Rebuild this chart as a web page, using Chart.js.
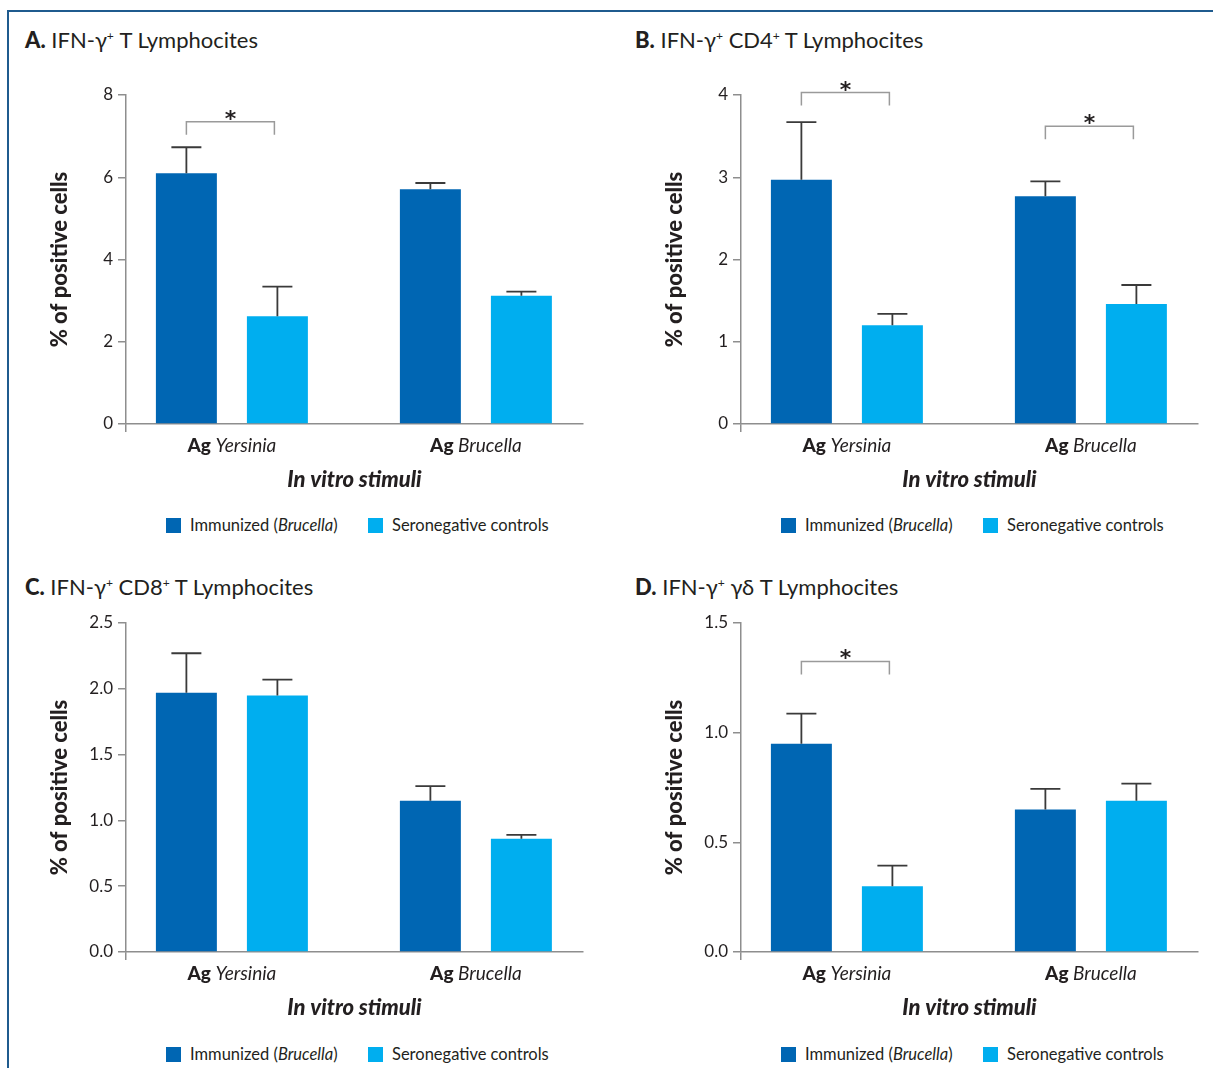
<!DOCTYPE html>
<html>
<head>
<meta charset="utf-8">
<script src="https://cdn.jsdelivr.net/npm/chart.js@4.4.0/dist/chart.umd.min.js"></script>
<style>
  body { margin: 0; background: #fff; font-family: Lato, 'Open Sans', sans-serif; color: #231f20; }
  #page { position: relative; width: 1213px; height: 1068px; overflow: hidden; }
  #frame { position: absolute; left: 7px; top: 10px; right: -5px; bottom: -5px;
           border-top: 2.5px solid #1f5b8e; border-left: 2.5px solid #1f5b8e; }
  .title { position: absolute; font-size: 22px; line-height: 24px; white-space: nowrap; }
  .title b { font-weight: 900; }
  .title sup { font-size: 55%; line-height: 0; vertical-align: super; }
  .panel { position: absolute; }
  .leg { position: absolute; font-size: 16.5px; line-height: 18px; white-space: nowrap; display: flex; align-items: center; }
  .sw { display: inline-block; width: 15px; height: 15px; margin-right: 9px; }
</style>
</head>
<body>
<div id="page">
  <div id="frame"></div>

  <div class="title" style="left:25px; top:28px"><b>A.</b> IFN-γ<sup>+</sup> T Lymphocites</div>
  <div class="title" style="left:635px; top:28px"><b>B.</b> IFN-γ<sup>+</sup> CD4<sup>+</sup> T Lymphocites</div>
  <div class="title" style="left:25px; top:575px"><b>C.</b> IFN-γ<sup>+</sup> CD8<sup>+</sup> T Lymphocites</div>
  <div class="title" style="left:635px; top:575px"><b>D.</b> IFN-γ<sup>+</sup> γδ T Lymphocites</div>

  <canvas id="chartA" class="panel" width="598" height="433" style="left:0; top:60px"></canvas>
  <canvas id="chartB" class="panel" width="598" height="433" style="left:615px; top:60px"></canvas>
  <canvas id="chartC" class="panel" width="598" height="433" style="left:0; top:588px"></canvas>
  <canvas id="chartD" class="panel" width="598" height="433" style="left:615px; top:588px"></canvas>

  <div class="leg" style="left:166px; top:516px"><span class="sw" style="background:#0066b3"></span>Immunized (<i>Brucella</i>)</div>
  <div class="leg" style="left:368px; top:516px"><span class="sw" style="background:#00aeef"></span>Seronegative controls</div>
  <div class="leg" style="left:781px; top:516px"><span class="sw" style="background:#0066b3"></span>Immunized (<i>Brucella</i>)</div>
  <div class="leg" style="left:983px; top:516px"><span class="sw" style="background:#00aeef"></span>Seronegative controls</div>
  <div class="leg" style="left:166px; top:1045px"><span class="sw" style="background:#0066b3"></span>Immunized (<i>Brucella</i>)</div>
  <div class="leg" style="left:368px; top:1045px"><span class="sw" style="background:#00aeef"></span>Seronegative controls</div>
  <div class="leg" style="left:781px; top:1045px"><span class="sw" style="background:#0066b3"></span>Immunized (<i>Brucella</i>)</div>
  <div class="leg" style="left:983px; top:1045px"><span class="sw" style="background:#00aeef"></span>Seronegative controls</div>
</div>

<script>
const categories   = ['Yersinia', 'Brucella'];
const seriesLabels = ['Immunized (Brucella)', 'Seronegative controls'];

// A. IFN-γ+ T
const aImmunized    = [6.10, 5.71];
const aImmunizedErr = [0.63, 0.15];
const aControls     = [2.62, 3.12];
const aControlsErr  = [0.72, 0.10];
const aTicks        = [0, 2, 4, 6, 8];
const aSigCats      = [0];
const aSigLevels    = [7.35];

// B. IFN-γ+ CD4+ T
const bImmunized    = [2.97, 2.77];
const bImmunizedErr = [0.70, 0.18];
const bControls     = [1.20, 1.46];
const bControlsErr  = [0.14, 0.23];
const bTicks        = [0, 1, 2, 3, 4];
const bSigCats      = [0, 1];
const bSigLevels    = [4.03, 3.62];

// C. IFN-γ+ CD8+ T
const cImmunized    = [1.97, 1.15];
const cImmunizedErr = [0.30, 0.11];
const cControls     = [1.95, 0.86];
const cControlsErr  = [0.12, 0.03];
const cTicks        = [0, 0.5, 1.0, 1.5, 2.0, 2.5];
const cSigCats      = [];
const cSigLevels    = [];

// D. IFN-γ+ γδ T
const dImmunized    = [0.95, 0.65];
const dImmunizedErr = [0.137, 0.094];
const dControls     = [0.30, 0.69];
const dControlsErr  = [0.094, 0.078];
const dTicks        = [0, 0.5, 1.0, 1.5];
const dSigCats      = [0];
const dSigLevels    = [1.325];

const FONT  = 'Lato, "Open Sans", sans-serif';
const TEXT  = '#231f20';
const AXIS  = '#8e8e8e';
const DARK  = '#0066b3';
const LIGHT = '#00aeef';

// error bars, significance brackets and mixed-font category labels
const extras = {
  id: 'extras',
  afterDatasetsDraw(chart, args, opts) {
    const { ctx, chartArea } = chart;
    const x = chart.scales.x, y = chart.scales.y;
    ctx.save();

    chart.data.datasets.forEach((ds, di) => {
      chart.getDatasetMeta(di).data.forEach((bar, i) => {
        const top = y.getPixelForValue(ds.data[i].y + ds.err[i]);
        ctx.strokeStyle = '#3a3a3a';
        ctx.lineWidth = 1.8;
        ctx.beginPath();
        ctx.moveTo(bar.x, bar.y);
        ctx.lineTo(bar.x, top);
        ctx.moveTo(bar.x - 15, top);
        ctx.lineTo(bar.x + 15, top);
        ctx.stroke();
      });
    });

    const m0 = chart.getDatasetMeta(0).data, m1 = chart.getDatasetMeta(1).data;
    opts.cats.forEach((c, k) => {
      const yy = y.getPixelForValue(opts.levels[k]);
      const x0 = m0[c].x, x1 = m1[c].x - 3;
      ctx.strokeStyle = '#9a9a9a';
      ctx.lineWidth = 1.5;
      ctx.beginPath();
      ctx.moveTo(x0, yy + 13);
      ctx.lineTo(x0, yy);
      ctx.lineTo(x1, yy);
      ctx.lineTo(x1, yy + 13);
      ctx.stroke();
      ctx.fillStyle = TEXT;
      ctx.font = 'bold 22px "DejaVu Sans", sans-serif';
      ctx.textAlign = 'center';
      ctx.textBaseline = 'alphabetic';
      ctx.fillText('*', (x0 + x1) / 2, yy + 4);
    });

    ctx.fillStyle = TEXT;
    ctx.textBaseline = 'middle';
    ctx.textAlign = 'left';
    categories.forEach((c, i) => {
      const cx = x.getPixelForValue(i);
      ctx.font = '900 19px ' + FONT;
      const w1 = ctx.measureText('Ag ').width;
      ctx.font = 'italic 19px ' + FONT;
      const w2 = ctx.measureText(c).width;
      const sx = cx - (w1 + w2) / 2;
      const ty = chartArea.bottom + 22;
      ctx.font = '900 19px ' + FONT;
      ctx.fillText('Ag ', sx, ty);
      ctx.font = 'italic 19px ' + FONT;
      ctx.fillText(c, sx + w1, ty);
    });
    ctx.restore();
  }
};

function makePanel(id, immunized, immunizedErr, controls, controlsErr, ticks, decimals, sigCats, sigLevels) {
  new Chart(document.getElementById(id), {
    type: 'bar',
    data: {
      datasets: [
        { label: seriesLabels[0], data: immunized.map((v, i) => ({ x: i, y: v })), err: immunizedErr, backgroundColor: DARK },
        { label: seriesLabels[1], data: controls.map((v, i) => ({ x: i, y: v })), err: controlsErr, backgroundColor: LIGHT }
      ]
    },
    options: {
      responsive: false,
      animation: false,
      categoryPercentage: 0.746,
      barPercentage: 0.67,
      layout: { padding: { left: 47, top: 35, right: 15, bottom: 0 } },
      plugins: {
        legend: { display: false },
        tooltip: { enabled: false },
        extras: { cats: sigCats, levels: sigLevels }
      },
      scales: {
        x: {
          type: 'linear', min: -0.434, max: 1.439, offset: false,
          afterBuildTicks: s => { s.ticks = [{ value: s.min }]; },
          afterFit: s => { s.height = 69; },
          ticks: { display: false },
          grid: { display: true, offset: false, drawOnChartArea: false, drawTicks: true, tickLength: 8, color: AXIS, lineWidth: 1.5 },
          border: { display: true, color: AXIS, width: 1.5 },
          title: { display: true, text: 'In vitro stimuli', color: TEXT, padding: 0,
                   font: { family: FONT, size: 22, weight: '900', style: 'italic' } }
        },
        y: {
          min: ticks[0], max: ticks[ticks.length - 1],
          afterBuildTicks: s => { s.ticks = ticks.map(v => ({ value: v })); },
          afterFit: s => { s.width = 79; },
          ticks: { color: TEXT, padding: 5, font: { family: FONT, size: 17 }, callback: v => v.toFixed(decimals) },
          grid: { drawOnChartArea: false, drawTicks: true, tickLength: 8, color: AXIS, lineWidth: 1.5 },
          border: { color: AXIS, width: 1.5 },
          title: { display: true, text: '% of positive cells', color: TEXT, padding: 0,
                   font: { family: FONT, size: 22, weight: '900' } }
        }
      }
    },
    plugins: [extras]
  });
}

makePanel('chartA', aImmunized, aImmunizedErr, aControls, aControlsErr, aTicks, 0, aSigCats, aSigLevels);
makePanel('chartB', bImmunized, bImmunizedErr, bControls, bControlsErr, bTicks, 0, bSigCats, bSigLevels);
makePanel('chartC', cImmunized, cImmunizedErr, cControls, cControlsErr, cTicks, 1, cSigCats, cSigLevels);
makePanel('chartD', dImmunized, dImmunizedErr, dControls, dControlsErr, dTicks, 1, dSigCats, dSigLevels);
</script>
</body>
</html>
